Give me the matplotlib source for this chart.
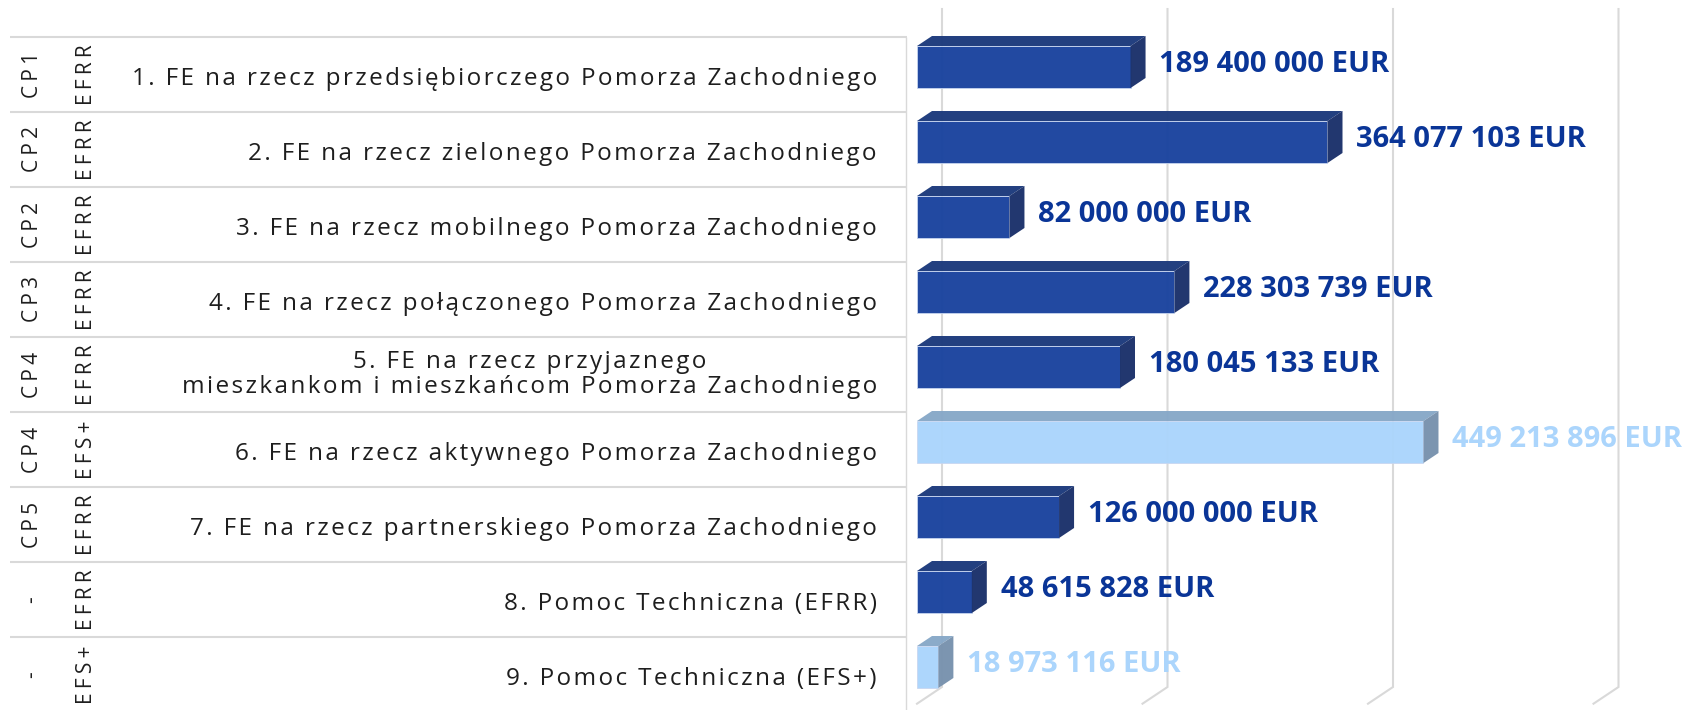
import matplotlib
matplotlib.use("Agg")
import matplotlib.pyplot as plt
from matplotlib.patches import Polygon

# ---------------- data ----------------
priorities = [
    "1. FE na rzecz przedsiębiorczego Pomorza Zachodniego",
    "2. FE na rzecz zielonego Pomorza Zachodniego",
    "3. FE na rzecz mobilnego Pomorza Zachodniego",
    "4. FE na rzecz połączonego Pomorza Zachodniego",
    "5. FE na rzecz przyjaznego\nmieszkankom i mieszkańcom Pomorza Zachodniego",
    "6. FE na rzecz aktywnego Pomorza Zachodniego",
    "7. FE na rzecz partnerskiego Pomorza Zachodniego",
    "8. Pomoc Techniczna (EFRR)",
    "9. Pomoc Techniczna (EFS+)",
]
policy_goals = ["CP1", "CP2", "CP2", "CP3", "CP4", "CP4", "CP5", "-", "-"]
funds = ["EFRR", "EFRR", "EFRR", "EFRR", "EFRR", "EFS+", "EFRR", "EFRR", "EFS+"]
amounts_eur = [189400000, 364077103, 82000000, 228303739, 180045133,
               449213896, 126000000, 48615828, 18973116]
grid_values = [0, 200000000, 400000000, 600000000]

# ---------------- style ----------------
fund_style = {
    "EFRR": dict(front="#1a439e", top="#1c3a7c", side="#1a306a", label="#0a3597"),
    "EFS+": dict(front="#abd5fc", top="#87a8c8", side="#7892ae", label="#abd5fc"),
}
GRID = "#d9d9d9"
TXT = "#1e1e1e"
HS = "\u200a"

W, H, DPI = 1693, 710, 100
ROW_TOP, ROW_H = 37.0, 75.0
SPLIT = 907.0          # table / chart border (px)
X0 = 917.0             # front zero of value axis (px)
PX_PER_EUR = 1.1275e-6


def row_of(ypx):
    return (ypx - ROW_TOP) / ROW_H


def spaced(s, sep=HS):
    return "\n".join(sep.join(line) for line in s.split("\n"))


plt.rcParams["font.family"] = ["Open Sans", "DejaVu Sans"]
fig = plt.figure(figsize=(W / DPI, H / DPI), dpi=DPI)
fig.patch.set_facecolor("white")

ylims = (row_of(H), row_of(0))

# ---------------- table part ----------------
axt = fig.add_axes([0, 0, SPLIT / W, 1])
axt.set_xlim(0, SPLIT)
axt.set_ylim(*ylims)
axt.axis("off")
n = len(priorities)
axt.hlines(list(range(n + 1)), 10, SPLIT, color=GRID, lw=1.5, clip_on=False)
axt.vlines(SPLIT - 1, 0, ylims[0], color=GRID, lw=1.0, clip_on=False)

for i, (pr, cp, fd) in enumerate(zip(priorities, policy_goals, funds)):
    yc = i + 0.5
    axt.text(32, yc, spaced(cp, HS * 2), rotation=90, ha="center", va="center",
             fontsize=15, color=TXT, rotation_mode="anchor")
    axt.text(86, yc, spaced(fd, HS * 2), rotation=90, ha="center", va="center",
             fontsize=15, color=TXT, rotation_mode="anchor")
    if "\n" in pr:
        axt.text(877, yc, spaced(pr), ha="right", va="center",
                 multialignment="center", fontsize=17.5, color=TXT,
                 linespacing=1.05)
    else:
        axt.annotate(spaced(pr), xy=(877, yc), xytext=(0, -7.5),
                     textcoords="offset points", ha="right", va="baseline",
                     fontsize=17.5, color=TXT)

# ---------------- chart part ----------------
axc = fig.add_axes([SPLIT / W, 0, (W - SPLIT) / W, 1])
axc.set_xlim((SPLIT - X0) / PX_PER_EUR, (W - X0) / PX_PER_EUR)
axc.set_ylim(*ylims)
axc.axis("off")

back_dx = 25 / PX_PER_EUR
back_dy = 16.7 / ROW_H
grid_top = row_of(9)
grid_bot = row_of(687)
for g in grid_values:
    axc.plot([g + back_dx, g + back_dx, g], [grid_top, grid_bot, grid_bot + back_dy],
             color=GRID, lw=1.5, zorder=1, solid_joinstyle="miter")

bar_dx = 15 / PX_PER_EUR
bar_dy = 10 / ROW_H
f_top, f_bot = 0.12, 0.68
for i, (v, fd) in enumerate(zip(amounts_eur, funds)):
    st = fund_style[fd]
    t, b = i + f_top, i + f_bot
    axc.barh(i + (f_top + f_bot) / 2, v, height=f_bot - f_top, left=0,
             color=st["front"], alpha=0.97, zorder=3,
             edgecolor="#c8d6f0", linewidth=0.6)
    axc.add_patch(Polygon([(0, t), (v, t), (v + bar_dx, t - bar_dy), (bar_dx, t - bar_dy)],
                          closed=True, facecolor=st["top"], edgecolor="none",
                          alpha=0.97, zorder=3))
    axc.add_patch(Polygon([(v, t), (v + bar_dx, t - bar_dy), (v + bar_dx, b - bar_dy), (v, b)],
                          closed=True, facecolor=st["side"], edgecolor="none",
                          alpha=0.97, zorder=3))
    label = f"{v:,}".replace(",", " ") + " EUR"
    axc.annotate(label, xy=(v + bar_dx, i + 0.5), xytext=(10, 1.5),
                 textcoords="offset points", ha="left", va="baseline",
                 fontsize=21, fontweight="bold", color=st["label"], zorder=4,
                 annotation_clip=False)

fig.savefig("out.png", dpi=DPI, facecolor="white")
